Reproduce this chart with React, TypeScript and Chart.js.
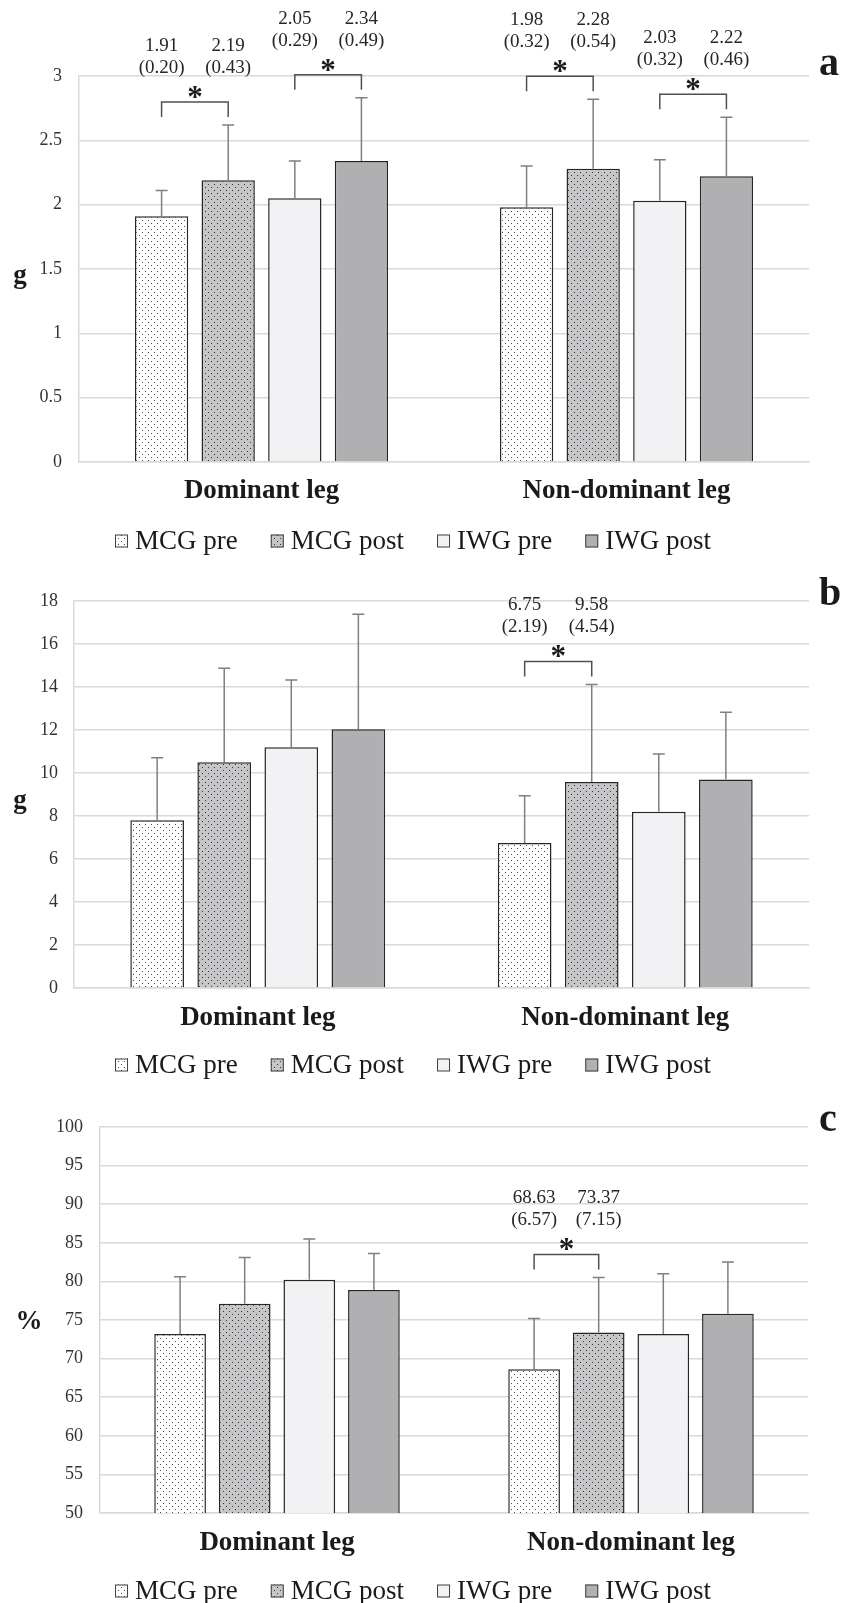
import React, { useEffect, useRef } from 'react';
import { Chart, registerables } from 'chart.js';
Chart.register(...registerables);

const FONT = '"Liberation Serif", "Times New Roman", serif';

const categories = ['Dominant leg', 'Non-dominant leg'];
const seriesNames = ['MCG pre', 'MCG post', 'IWG pre', 'IWG post'];

// Panel a (g) — rows: MCG pre, MCG post, IWG pre, IWG post; cols: dominant, non-dominant
const aMeans = [
  [1.91, 1.98],
  [2.19, 2.28],
  [2.05, 2.03],
  [2.34, 2.22],
];
const aSds = [
  [0.2, 0.32],
  [0.43, 0.54],
  [0.29, 0.32],
  [0.49, 0.46],
];
// significant pairs: [category, series A, series B]
const aSig = [
  [0, 0, 1],
  [0, 2, 3],
  [1, 0, 1],
  [1, 2, 3],
];

// Panel b (g)
const bMeans = [
  [7.8, 6.75],
  [10.5, 9.58],
  [11.2, 8.2],
  [12.03, 9.7],
];
const bSds = [
  [2.91, 2.19],
  [4.37, 4.54],
  [3.13, 2.68],
  [5.35, 3.12],
];
const bSig = [[1, 0, 1]];

// Panel c (%)
const cMeans = [
  [73.2, 68.63],
  [77.1, 73.37],
  [80.2, 73.2],
  [78.9, 75.8],
];
const cSds = [
  [7.4, 6.57],
  [6.0, 7.15],
  [5.3, 7.8],
  [4.7, 6.7],
];
const cSig = [[1, 0, 1]];

const aTicks = { min: 0, max: 3, step: 0.5 };
const bTicks = { min: 0, max: 18, step: 2 };
const cTicks = { min: 50, max: 100, step: 5 };

function makePattern(bg: string, dot: string, size: number, dots: number[][]) {
  const c = document.createElement('canvas');
  c.width = size;
  c.height = size;
  const ctx = c.getContext('2d')!;
  ctx.fillStyle = bg;
  ctx.fillRect(0, 0, size, size);
  ctx.fillStyle = dot;
  for (const [x, y] of dots) ctx.fillRect(x, y, 1, 1);
  return ctx.createPattern(c, 'repeat')!;
}

type PanelCfg = {
  top: number;
  height: number;
  padTop: number;
  padLeft: number;
  padRight: number;
  padBottom: number;
  yWidth: number;
  xHeight: number;
  xTickPad: number;
  yTickPad: number;
  ticks: { min: number; max: number; step: number };
  yTitle: string;
  titleX: number;
  titleDy: number;
  letter: string;
  letterBaseline: number;
  legendY: number;
  means: number[][];
  sds: number[][];
  sig: number[][];
};

function Panel({ cfg }: { cfg: PanelCfg }) {
  const ref = useRef<HTMLCanvasElement | null>(null);
  useEffect(() => {
    const canvas = ref.current!;
    const fills: any[] = [
      makePattern('#ffffff', '#4a4a4a', 6, [[1, 1], [4, 4]]),
      makePattern('#c6c6c8', '#333333', 6, [[1, 1], [4, 4]]),
      '#f2f2f4',
      '#b0b0b3',
    ];
    const overlay = {
      id: 'overlay',
      afterDatasetsDraw(chart: any) {
        const ctx = chart.ctx as CanvasRenderingContext2D;
        const ys = chart.scales.y;
        ctx.save();
        ctx.strokeStyle = '#7f7f7f';
        ctx.lineWidth = 1.5;
        cfg.means.forEach((m, i) => {
          const meta = chart.getDatasetMeta(i);
          meta.data.forEach((el: any, j: number) => {
            const x = el.x;
            const y0 = el.y;
            const y1 = ys.getPixelForValue(m[j] + cfg.sds[i][j]);
            ctx.beginPath();
            ctx.moveTo(x, y0);
            ctx.lineTo(x, y1);
            ctx.moveTo(x - 6, y1);
            ctx.lineTo(x + 6, y1);
            ctx.stroke();
          });
        });
        ctx.restore();
      },
      afterDraw(chart: any) {
        const ctx = chart.ctx as CanvasRenderingContext2D;
        const ys = chart.scales.y;
        const area = chart.chartArea;
        ctx.save();
        // significance brackets with mean (SD) labels
        for (const [cat, s1, s2] of cfg.sig) {
          const x1 = chart.getDatasetMeta(s1).data[cat].x;
          const x2 = chart.getDatasetMeta(s2).data[cat].x;
          const t1 = ys.getPixelForValue(cfg.means[s1][cat] + cfg.sds[s1][cat]);
          const t2 = ys.getPixelForValue(cfg.means[s2][cat] + cfg.sds[s2][cat]);
          const yH = Math.min(t1, t2) - 23;
          ctx.strokeStyle = '#505050';
          ctx.lineWidth = 1.5;
          ctx.beginPath();
          ctx.moveTo(x1, yH + 15);
          ctx.lineTo(x1, yH);
          ctx.lineTo(x2, yH);
          ctx.lineTo(x2, yH + 15);
          ctx.stroke();
          ctx.fillStyle = '#1a1a1a';
          ctx.textAlign = 'center';
          ctx.textBaseline = 'alphabetic';
          ctx.font = `bold 31px ${FONT}`;
          ctx.fillText('*', (x1 + x2) / 2, yH - 10 + 15);
          ctx.font = `19px ${FONT}`;
          ctx.textBaseline = 'middle';
          ctx.fillStyle = '#262626';
          for (const [s, x] of [[s1, x1], [s2, x2]]) {
            ctx.fillText(cfg.means[s][cat].toFixed(2), x, yH - 56);
            ctx.fillText(`(${cfg.sds[s][cat].toFixed(2)})`, x, yH - 34);
          }
        }
        // y-axis title (upright)
        ctx.fillStyle = '#1a1a1a';
        ctx.font = `bold 27px ${FONT}`;
        ctx.textAlign = 'center';
        ctx.textBaseline = 'middle';
        ctx.fillText(cfg.yTitle, cfg.titleX, (area.top + area.bottom) / 2 + cfg.titleDy);
        // panel letter
        ctx.font = `bold 40px ${FONT}`;
        ctx.textAlign = 'left';
        ctx.textBaseline = 'alphabetic';
        ctx.fillText(cfg.letter, 819, cfg.letterBaseline);
        // legend
        ctx.font = `27px ${FONT}`;
        const box = 13;
        const gap = 7;
        const sep = 33;
        const widths = seriesNames.map((n) => ctx.measureText(n).width);
        const total = widths.reduce((a, w) => a + box + gap + w, 0) + sep * (seriesNames.length - 1);
        let x = 413 - total / 2;
        const ly = cfg.legendY;
        seriesNames.forEach((name, i) => {
          ctx.fillStyle = fills[i];
          ctx.fillRect(x, ly - box / 2 - 1, box, box);
          ctx.strokeStyle = '#404040';
          ctx.lineWidth = 1;
          ctx.strokeRect(x + 0.5, ly - box / 2 - 0.5, box - 1, box - 1);
          ctx.fillStyle = '#1a1a1a';
          ctx.textAlign = 'left';
          ctx.textBaseline = 'middle';
          ctx.fillText(name, x + box + gap, ly);
          x += box + gap + widths[i] + sep;
        });
        ctx.restore();
      },
    };
    const chart = new Chart(canvas, {
      type: 'bar',
      data: {
        labels: categories,
        datasets: cfg.means.map((m, i) => ({
          label: seriesNames[i],
          data: m,
          backgroundColor: fills[i],
          borderColor: '#262626',
          borderWidth: 1.5,
          categoryPercentage: 0.73,
          barPercentage: 0.8,
        })),
      },
      options: {
        responsive: false,
        animation: false,
        devicePixelRatio: 1,
        events: [],
        layout: { padding: { top: cfg.padTop, left: cfg.padLeft, right: cfg.padRight, bottom: cfg.padBottom } },
        plugins: {
          tooltip: { enabled: false },
          legend: { display: false },
        },
        scales: {
          x: {
            grid: { display: false, drawTicks: false },
            border: { display: true, color: '#d9d9d9', width: 1.5 },
            ticks: {
              font: { family: FONT, size: 27, weight: 'bold' },
              color: '#1a1a1a',
              padding: cfg.xTickPad,
            },
            afterFit: (s: any) => {
              s.height = cfg.xHeight;
            },
          },
          y: {
            min: cfg.ticks.min,
            max: cfg.ticks.max,
            grid: { color: '#d9d9d9', lineWidth: 1.5, drawTicks: false },
            border: { display: true, color: '#d9d9d9', width: 1.5 },
            ticks: {
              stepSize: cfg.ticks.step,
              font: { family: FONT, size: 18 },
              color: '#333333',
              padding: cfg.yTickPad,
              callback: (v: any) => String(v),
            },
            afterFit: (s: any) => {
              s.width = cfg.yWidth;
            },
          },
        },
      },
      plugins: [overlay],
    } as any);
    return () => chart.destroy();
  }, [cfg]);
  return (
    <canvas
      ref={ref}
      width={841}
      height={cfg.height}
      style={{ position: 'absolute', left: 0, top: cfg.top, width: 841, height: cfg.height }}
    />
  );
}

const panels: PanelCfg[] = [
  {
    top: 0, height: 565, padTop: 76, padLeft: 14, padRight: 32, padBottom: 48, yWidth: 65, xHeight: 55,
    xTickPad: 13, yTickPad: 17, ticks: aTicks, yTitle: 'g', titleX: 20, titleDy: 7, letter: 'a', letterBaseline: 75,
    legendY: 542, means: aMeans, sds: aSds, sig: aSig,
  },
  {
    top: 565, height: 523, padTop: 36, padLeft: 14, padRight: 32, padBottom: 45, yWidth: 60, xHeight: 55,
    xTickPad: 14, yTickPad: 16, ticks: bTicks, yTitle: 'g', titleX: 20, titleDy: 7, letter: 'b', letterBaseline: 40,
    legendY: 501, means: bMeans, sds: bSds, sig: bSig,
  },
  {
    top: 1088, height: 515, padTop: 39, padLeft: 14, padRight: 33, padBottom: 35, yWidth: 86, xHeight: 55,
    xTickPad: 14, yTickPad: 17, ticks: cTicks, yTitle: '%', titleX: 29, titleDy: 2, letter: 'c', letterBaseline: 43,
    legendY: 504, means: cMeans, sds: cSds, sig: cSig,
  },
];

export default function App() {
  return (
    <div style={{ position: 'fixed', left: 0, top: 0, width: 841, height: 1603, overflow: 'hidden', background: '#ffffff' }}>
      {panels.map((p) => (
        <Panel key={p.letter} cfg={p} />
      ))}
    </div>
  );
}
